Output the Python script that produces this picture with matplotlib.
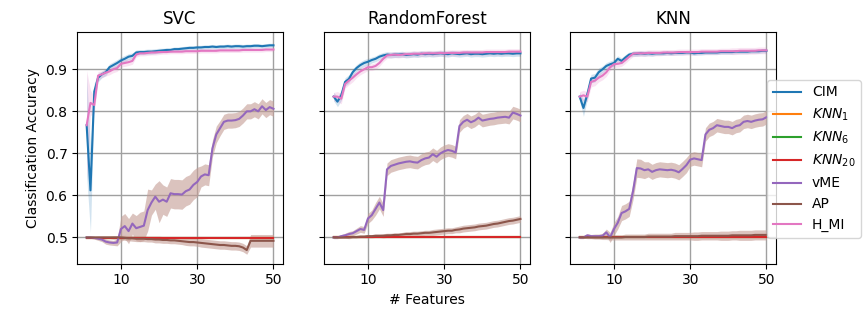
import numpy as np
import matplotlib
matplotlib.use("Agg")
import matplotlib.pyplot as plt

n_features = np.arange(1, 51)
classifiers = ["SVC", "RandomForest", "KNN"]
labels = ["CIM", "$KNN_1$", "$KNN_6$", "$KNN_{20}$", "vME", "AP", "H_MI"]
colors = ["#1f77b4", "#ff7f0e", "#2ca02c", "#d62728", "#9467bd", "#8c564b", "#e377c2"]
band_colors = ["#1f77b4", "#ff7f0e", "#2ca02c", "#d62728", "#c49c94", "#c49c94", "#e377c2"]
band_alphas = [0.2, 0.2, 0.2, 0.2, 0.6, 0.6, 0.2]
xticks = [10, 30, 50]
yticks = [0.5, 0.6, 0.7, 0.8, 0.9]

# ---------------- SVC ----------------
svc_cim = [0.767, 0.612, 0.847, 0.880, 0.888, 0.893, 0.905, 0.910, 0.915, 0.921,
           0.925, 0.930, 0.932, 0.940, 0.941, 0.941, 0.942, 0.942, 0.943, 0.944,
           0.945, 0.946, 0.946, 0.948, 0.948, 0.949, 0.950, 0.951, 0.951, 0.952,
           0.952, 0.953, 0.953, 0.954, 0.953, 0.954, 0.954, 0.955, 0.954, 0.955,
           0.955, 0.954, 0.955, 0.955, 0.956, 0.956, 0.955, 0.956, 0.957, 0.957]
svc_cim_sd = [0.12, 0.10, 0.02, 0.01, 0.008, 0.008, 0.008, 0.008, 0.008, 0.008,
              0.008, 0.007, 0.007, 0.006, 0.006, 0.006, 0.006, 0.006, 0.006, 0.006,
              0.005, 0.005, 0.005, 0.005, 0.005, 0.005, 0.005, 0.005, 0.005, 0.005,
              0.005, 0.005, 0.005, 0.005, 0.005, 0.005, 0.005, 0.005, 0.005, 0.005,
              0.005, 0.005, 0.005, 0.005, 0.005, 0.005, 0.005, 0.005, 0.005, 0.005]
svc_knn1 = [0.499] * 50
svc_knn6 = [0.499] * 50
svc_knn20 = [0.499] * 50
svc_vme = [0.500, 0.500, 0.499, 0.497, 0.495, 0.490, 0.488, 0.487, 0.488, 0.520,
           0.527, 0.515, 0.533, 0.522, 0.525, 0.528, 0.565, 0.583, 0.597, 0.585,
           0.590, 0.585, 0.605, 0.603, 0.603, 0.602, 0.610, 0.614, 0.625, 0.632,
           0.645, 0.650, 0.648, 0.712, 0.745, 0.760, 0.775, 0.778, 0.778, 0.779,
           0.782, 0.790, 0.800, 0.800, 0.805, 0.800, 0.812, 0.803, 0.810, 0.806]
svc_vme_sd = [0.002, 0.002, 0.003, 0.004, 0.005, 0.006, 0.006, 0.006, 0.008, 0.030,
              0.030, 0.030, 0.025, 0.030, 0.035, 0.035, 0.050, 0.030, 0.030, 0.050,
              0.035, 0.035, 0.035, 0.035, 0.035, 0.035, 0.035, 0.035, 0.035, 0.035,
              0.025, 0.025, 0.025, 0.020, 0.020, 0.018, 0.018, 0.018, 0.018, 0.018,
              0.018, 0.018, 0.018, 0.018, 0.018, 0.018, 0.018, 0.018, 0.018, 0.018]
svc_ap = [0.500, 0.500, 0.500, 0.500, 0.500, 0.500, 0.500, 0.500, 0.500, 0.500,
          0.499, 0.498, 0.498, 0.497, 0.497, 0.497, 0.496, 0.496, 0.495, 0.495,
          0.494, 0.494, 0.493, 0.493, 0.492, 0.491, 0.490, 0.489, 0.489, 0.488,
          0.487, 0.486, 0.485, 0.484, 0.483, 0.482, 0.482, 0.481, 0.480, 0.480,
          0.479, 0.476, 0.470, 0.492, 0.492, 0.492, 0.492, 0.492, 0.492, 0.492]
svc_ap_sd = [0.002, 0.002, 0.002, 0.003, 0.003, 0.003, 0.003, 0.004, 0.004, 0.005,
             0.006, 0.006, 0.007, 0.007, 0.007, 0.007, 0.007, 0.007, 0.008, 0.008,
             0.008, 0.008, 0.008, 0.008, 0.008, 0.008, 0.009, 0.009, 0.009, 0.009,
             0.010, 0.010, 0.010, 0.010, 0.010, 0.010, 0.010, 0.010, 0.010, 0.010,
             0.010, 0.010, 0.010, 0.015, 0.015, 0.015, 0.015, 0.015, 0.015, 0.015]
svc_hmi = [0.767, 0.820, 0.815, 0.885, 0.888, 0.892, 0.895, 0.900, 0.903, 0.913,
           0.915, 0.917, 0.920, 0.935, 0.938, 0.938, 0.939, 0.940, 0.940, 0.941,
           0.941, 0.941, 0.942, 0.942, 0.942, 0.942, 0.943, 0.943, 0.943, 0.943,
           0.944, 0.944, 0.944, 0.944, 0.944, 0.945, 0.945, 0.945, 0.945, 0.945,
           0.945, 0.946, 0.946, 0.946, 0.946, 0.946, 0.946, 0.947, 0.947, 0.947]
svc_hmi_sd = [0.13, 0.03, 0.02, 0.01, 0.008, 0.008, 0.008, 0.008, 0.008, 0.008,
              0.008, 0.008, 0.008, 0.006, 0.006, 0.006, 0.006, 0.006, 0.006, 0.006,
              0.005, 0.005, 0.005, 0.005, 0.005, 0.005, 0.005, 0.005, 0.005, 0.005,
              0.005, 0.005, 0.005, 0.005, 0.005, 0.005, 0.005, 0.005, 0.005, 0.005,
              0.005, 0.005, 0.005, 0.005, 0.005, 0.005, 0.005, 0.005, 0.005, 0.005]

# ---------------- RandomForest ----------------
rf_cim = [0.835, 0.823, 0.838, 0.870, 0.877, 0.893, 0.903, 0.910, 0.915, 0.918,
          0.922, 0.925, 0.930, 0.933, 0.935, 0.934, 0.935, 0.935, 0.936, 0.934,
          0.935, 0.936, 0.935, 0.937, 0.936, 0.937, 0.936, 0.937, 0.938, 0.937,
          0.936, 0.938, 0.937, 0.936, 0.937, 0.938, 0.936, 0.937, 0.937, 0.936,
          0.937, 0.938, 0.937, 0.938, 0.937, 0.938, 0.938, 0.937, 0.938, 0.938]
rf_cim_sd = [0.010, 0.012, 0.012, 0.010, 0.010, 0.008, 0.008, 0.008, 0.008, 0.008,
             0.007, 0.007, 0.007, 0.007, 0.007, 0.007, 0.007, 0.007, 0.007, 0.007,
             0.007, 0.007, 0.007, 0.007, 0.007, 0.007, 0.007, 0.007, 0.007, 0.007,
             0.007, 0.007, 0.007, 0.007, 0.007, 0.007, 0.007, 0.007, 0.007, 0.007,
             0.007, 0.007, 0.007, 0.007, 0.007, 0.007, 0.007, 0.007, 0.007, 0.007]
rf_knn1 = [0.5] * 50
rf_knn6 = [0.5] * 50
rf_knn20 = [0.5] * 50
rf_vme = [0.500, 0.500, 0.503, 0.505, 0.508, 0.510, 0.515, 0.520, 0.518, 0.545,
          0.553, 0.568, 0.583, 0.565, 0.662, 0.670, 0.673, 0.676, 0.678, 0.680,
          0.681, 0.679, 0.678, 0.684, 0.688, 0.690, 0.698, 0.692, 0.700, 0.705,
          0.708, 0.706, 0.702, 0.765, 0.775, 0.780, 0.774, 0.778, 0.785, 0.778,
          0.780, 0.782, 0.783, 0.785, 0.786, 0.787, 0.785, 0.797, 0.794, 0.790]
rf_vme_sd = [0.003, 0.003, 0.004, 0.005, 0.006, 0.006, 0.007, 0.008, 0.008, 0.012,
             0.012, 0.015, 0.015, 0.015, 0.015, 0.015, 0.015, 0.015, 0.015, 0.015,
             0.015, 0.015, 0.015, 0.015, 0.015, 0.015, 0.015, 0.015, 0.015, 0.015,
             0.015, 0.015, 0.015, 0.015, 0.015, 0.015, 0.015, 0.015, 0.015, 0.015,
             0.015, 0.015, 0.015, 0.015, 0.015, 0.015, 0.015, 0.015, 0.015, 0.015]
rf_ap = [0.500, 0.500, 0.500, 0.500, 0.500, 0.501, 0.501, 0.502, 0.502, 0.503,
         0.503, 0.504, 0.504, 0.504, 0.505, 0.505, 0.506, 0.506, 0.507, 0.508,
         0.508, 0.509, 0.509, 0.510, 0.511, 0.511, 0.512, 0.513, 0.514, 0.515,
         0.516, 0.516, 0.518, 0.519, 0.521, 0.522, 0.523, 0.524, 0.526, 0.527,
         0.528, 0.530, 0.532, 0.533, 0.535, 0.537, 0.539, 0.540, 0.542, 0.544]
rf_ap_sd = [0.002, 0.002, 0.002, 0.002, 0.003, 0.003, 0.003, 0.003, 0.003, 0.004,
            0.004, 0.004, 0.004, 0.005, 0.005, 0.005, 0.005, 0.005, 0.005, 0.006,
            0.006, 0.006, 0.006, 0.006, 0.006, 0.006, 0.007, 0.007, 0.007, 0.007,
            0.007, 0.007, 0.007, 0.008, 0.008, 0.008, 0.008, 0.008, 0.008, 0.008,
            0.008, 0.008, 0.008, 0.008, 0.008, 0.008, 0.008, 0.008, 0.008, 0.008]
rf_hmi = [0.835, 0.835, 0.830, 0.865, 0.873, 0.880, 0.888, 0.895, 0.900, 0.905,
          0.905, 0.908, 0.915, 0.925, 0.933, 0.934, 0.935, 0.934, 0.935, 0.936,
          0.936, 0.937, 0.937, 0.937, 0.938, 0.938, 0.938, 0.938, 0.939, 0.938,
          0.939, 0.939, 0.939, 0.939, 0.940, 0.940, 0.940, 0.940, 0.940, 0.940,
          0.941, 0.941, 0.941, 0.941, 0.941, 0.941, 0.942, 0.942, 0.942, 0.942]
rf_hmi_sd = [0.010, 0.012, 0.012, 0.010, 0.010, 0.010, 0.008, 0.008, 0.008, 0.008,
             0.008, 0.008, 0.008, 0.007, 0.007, 0.007, 0.007, 0.007, 0.007, 0.007,
             0.007, 0.007, 0.007, 0.007, 0.007, 0.007, 0.007, 0.007, 0.007, 0.007,
             0.007, 0.007, 0.007, 0.007, 0.007, 0.007, 0.007, 0.007, 0.007, 0.007,
             0.007, 0.007, 0.007, 0.007, 0.007, 0.007, 0.007, 0.007, 0.007, 0.007]

# ---------------- KNN ----------------
knn_cim = [0.835, 0.808, 0.840, 0.878, 0.880, 0.893, 0.900, 0.908, 0.912, 0.915,
           0.925, 0.920, 0.928, 0.935, 0.937, 0.937, 0.938, 0.937, 0.938, 0.937,
           0.938, 0.938, 0.938, 0.939, 0.938, 0.939, 0.939, 0.939, 0.940, 0.940,
           0.938, 0.939, 0.939, 0.940, 0.940, 0.940, 0.940, 0.941, 0.941, 0.941,
           0.941, 0.942, 0.942, 0.942, 0.942, 0.943, 0.943, 0.943, 0.944, 0.944]
knn_cim_sd = [0.010, 0.020, 0.012, 0.010, 0.010, 0.010, 0.008, 0.008, 0.008, 0.008,
              0.007, 0.007, 0.007, 0.006, 0.006, 0.006, 0.006, 0.006, 0.006, 0.006,
              0.005, 0.005, 0.005, 0.005, 0.005, 0.005, 0.005, 0.005, 0.005, 0.005,
              0.005, 0.005, 0.005, 0.005, 0.005, 0.005, 0.005, 0.005, 0.005, 0.005,
              0.005, 0.005, 0.005, 0.005, 0.005, 0.005, 0.005, 0.005, 0.005, 0.005]
knn_knn1 = [0.5] * 50
knn_knn6 = [0.5] * 50
knn_knn20 = [0.5] * 50
knn_vme = [0.500, 0.500, 0.505, 0.503, 0.503, 0.503, 0.504, 0.512, 0.500, 0.520,
           0.535, 0.558, 0.562, 0.568, 0.610, 0.665, 0.664, 0.660, 0.662, 0.656,
           0.660, 0.662, 0.661, 0.660, 0.661, 0.659, 0.655, 0.663, 0.672, 0.685,
           0.688, 0.686, 0.684, 0.745, 0.756, 0.760, 0.767, 0.765, 0.763, 0.763,
           0.760, 0.765, 0.767, 0.775, 0.777, 0.775, 0.778, 0.780, 0.781, 0.786]
knn_vme_sd = [0.003, 0.003, 0.004, 0.004, 0.005, 0.005, 0.006, 0.008, 0.012, 0.015,
              0.015, 0.018, 0.018, 0.018, 0.020, 0.022, 0.022, 0.020, 0.018, 0.018,
              0.018, 0.018, 0.018, 0.018, 0.018, 0.018, 0.018, 0.018, 0.018, 0.016,
              0.016, 0.016, 0.016, 0.016, 0.016, 0.016, 0.016, 0.016, 0.016, 0.016,
              0.016, 0.016, 0.016, 0.016, 0.016, 0.016, 0.016, 0.016, 0.016, 0.016]
knn_ap = [0.500, 0.500, 0.500, 0.500, 0.500, 0.500, 0.500, 0.500, 0.500, 0.500,
          0.500, 0.500, 0.501, 0.501, 0.501, 0.501, 0.501, 0.501, 0.502, 0.502,
          0.502, 0.502, 0.502, 0.502, 0.502, 0.503, 0.503, 0.503, 0.503, 0.503,
          0.503, 0.503, 0.504, 0.504, 0.504, 0.504, 0.504, 0.504, 0.504, 0.504,
          0.505, 0.505, 0.505, 0.505, 0.505, 0.505, 0.506, 0.506, 0.506, 0.506]
knn_ap_sd = [0.002, 0.002, 0.003, 0.003, 0.004, 0.004, 0.005, 0.005, 0.006, 0.006,
             0.006, 0.006, 0.007, 0.007, 0.007, 0.007, 0.007, 0.007, 0.008, 0.008,
             0.008, 0.008, 0.008, 0.008, 0.008, 0.009, 0.009, 0.009, 0.009, 0.009,
             0.010, 0.010, 0.010, 0.010, 0.010, 0.010, 0.010, 0.011, 0.011, 0.011,
             0.011, 0.011, 0.012, 0.012, 0.012, 0.012, 0.012, 0.012, 0.012, 0.012]
knn_hmi = [0.835, 0.838, 0.835, 0.870, 0.873, 0.880, 0.885, 0.893, 0.905, 0.912,
           0.913, 0.915, 0.922, 0.930, 0.937, 0.938, 0.938, 0.938, 0.939, 0.939,
           0.939, 0.939, 0.940, 0.940, 0.940, 0.940, 0.941, 0.941, 0.941, 0.941,
           0.941, 0.941, 0.942, 0.942, 0.942, 0.942, 0.942, 0.943, 0.943, 0.943,
           0.943, 0.943, 0.944, 0.944, 0.944, 0.944, 0.944, 0.945, 0.945, 0.945]
knn_hmi_sd = [0.012, 0.012, 0.012, 0.012, 0.012, 0.010, 0.010, 0.010, 0.008, 0.008,
              0.008, 0.008, 0.008, 0.007, 0.007, 0.007, 0.007, 0.007, 0.007, 0.007,
              0.007, 0.007, 0.007, 0.007, 0.007, 0.007, 0.007, 0.007, 0.007, 0.007,
              0.007, 0.007, 0.007, 0.007, 0.007, 0.007, 0.007, 0.007, 0.007, 0.007,
              0.008, 0.008, 0.008, 0.008, 0.008, 0.008, 0.008, 0.008, 0.008, 0.008]

zero_sd = [0.0] * 50

series = {
    "SVC": [(svc_cim, svc_cim_sd), (svc_knn1, zero_sd), (svc_knn6, zero_sd),
            (svc_knn20, zero_sd), (svc_vme, svc_vme_sd), (svc_ap, svc_ap_sd),
            (svc_hmi, svc_hmi_sd)],
    "RandomForest": [(rf_cim, rf_cim_sd), (rf_knn1, zero_sd), (rf_knn6, zero_sd),
                     (rf_knn20, zero_sd), (rf_vme, rf_vme_sd), (rf_ap, rf_ap_sd),
                     (rf_hmi, rf_hmi_sd)],
    "KNN": [(knn_cim, knn_cim_sd), (knn_knn1, zero_sd), (knn_knn6, zero_sd),
            (knn_knn20, zero_sd), (knn_vme, knn_vme_sd), (knn_ap, knn_ap_sd),
            (knn_hmi, knn_hmi_sd)],
}

fig = plt.figure(figsize=(8.68, 3.16), dpi=100)
lefts = [77.3 / 868, 324.3 / 868, 570.3 / 868]
width = 205.5 / 868
bottom = 1 - 263.5 / 316
height = (263.5 - 32.3) / 316

axes = []
handles = []
for i, name in enumerate(classifiers):
    ax = fig.add_axes([lefts[i], bottom, width, height], sharey=axes[0] if axes else None)
    axes.append(ax)
    for j, (vals, sd) in enumerate(series[name]):
        v = np.array(vals)
        s = np.array(sd)
        ln, = ax.plot(n_features, v, color=colors[j], lw=1.5, label=labels[j])
        if np.any(s > 0):
            ax.fill_between(n_features, v - s, v + s, color=band_colors[j],
                            alpha=band_alphas[j], lw=0)
        if i == 0:
            handles.append(ln)
    ax.set_title(name, fontsize=12)
    ax.set_xticks(xticks)
    ax.set_yticks(yticks)
    ax.grid(True, color="#a0a0a0", lw=1.0)
    ax.set_axisbelow(True)
    ax.set_xlim(-1.45, 52.45)
    ax.set_ylim(0.438, 0.988)
    if i > 0:
        ax.tick_params(labelleft=False)

axes[0].set_ylabel("Classification Accuracy")
axes[1].set_xlabel("# Features")
fig.legend(handles, labels, loc="center left", bbox_to_anchor=(0.876, 0.497),
           fontsize=10)
fig.savefig("out.png", dpi=100)
